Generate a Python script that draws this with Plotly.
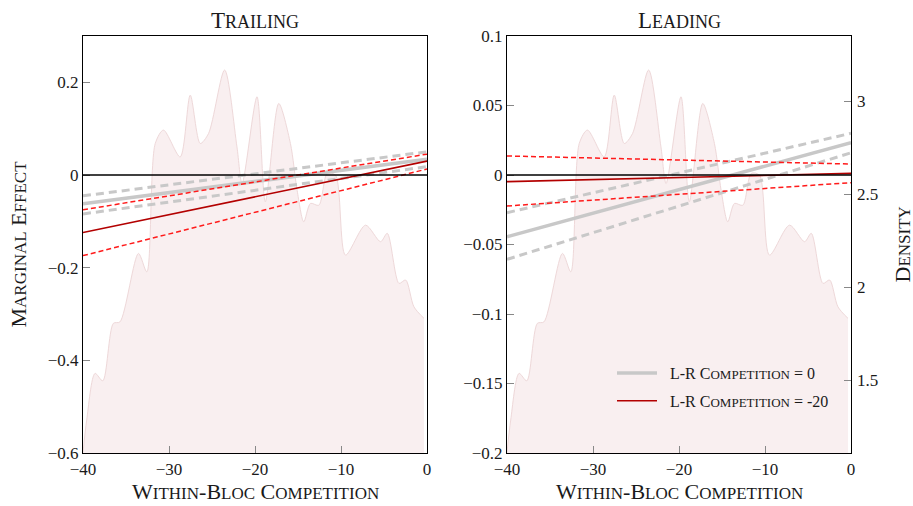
import plotly.graph_objects as go

# ---- data ----
x_ends = [-40, 0]

# Trailing panel (marginal effect)
trail_gray = [-0.062, 0.034]
trail_gray_hi = [-0.045, 0.050]
trail_gray_lo = [-0.084, 0.018]
trail_red = [-0.124, 0.030]
trail_red_hi = [-0.075, 0.045]
trail_red_lo = [-0.174, 0.013]

# Leading panel (marginal effect)
lead_gray = [-0.0444, 0.0233]
lead_gray_hi = [-0.0271, 0.0300]
lead_gray_lo = [-0.0607, 0.0160]
lead_red = [-0.0048, 0.0012]
lead_red_hi = [0.0137, 0.0079]
lead_red_lo = [-0.0223, -0.0055]

# density of within-bloc competition
dens_x = [-40.0, -39.57, -38.6, -37.7, -36.47, -35.7, -33.55, -32.58, -31.6, -30.64,
          -28.7, -27.53, -26.37, -25.4, -23.53, -22.1, -21.5, -19.77, -18.8, -17.24,
          -15.88, -15.1, -14.33, -13.55, -12.58, -11.6, -10.64, -9.48, -7.15, -5.4,
          -4.62, -3.26, -2.48, -1.52, -0.35]
dens_y = [1.11, 1.285, 1.536, 1.496, 1.805, 1.813, 2.181, 2.082, 2.772, 2.844,
          2.70, 3.032, 2.772, 2.826, 3.167, 2.754, 2.557, 3.023, 2.459, 2.987,
          2.772, 2.52, 2.351, 2.45, 2.44, 2.611, 2.602, 2.172, 2.333, 2.244,
          2.289, 2.02, 2.038, 1.894, 1.832]

x_ticks = [-40, -30, -20, -10, 0]
x_ticktext = ["\u221240", "\u221230", "\u221220", "\u221210", "0"]
trail_ticks = [-0.6, -0.4, -0.2, 0, 0.2]
trail_ticktext = ["\u22120.6", "\u22120.4", "\u22120.2", "0", "0.2"]
lead_ticks = [-0.2, -0.15, -0.1, -0.05, 0, 0.05, 0.1]
lead_ticktext = ["\u22120.2", "\u22120.15", "\u22120.1", "\u22120.05", "0", "0.05", "0.1"]
dens_ticks = [1.5, 2, 2.5, 3]
dens_ticktext = ["1.5", "2", "2.5", "3"]

panel_titles = ["Trailing", "Leading"]
x_title = "Within-Bloc Competition"
y_title = "Marginal Effect"
y2_title = "Density"
legend_names = ["L-R Competition = 0", "L-R Competition = -20"]

FONT = "Liberation Serif"
INK = "#1a1a1a"
GRAY = "#c8c8c8"
DRED = "#b30000"
RED = "#ff1a1a"
FILL = "#f9eff0"
EDGE = "#eed8d9"


def smallcaps(text, big, small):
    out = []
    for ch in text:
        if ch.islower():
            out.append('<span style="font-size:%dpx">%s</span>' % (small, ch.upper()))
        else:
            out.append('<span style="font-size:%dpx">%s</span>' % (big, ch))
    return "".join(out)


fig = go.Figure()

# density in both panels (base axes, drawn under)
for xa, ya in (("x", "y"), ("x2", "y2")):
    fig.add_trace(go.Scatter(x=dens_x, y=dens_y, xaxis=xa, yaxis=ya, mode="lines",
                             line=dict(color=EDGE, width=1, shape="spline", smoothing=0.8),
                             fill="tozeroy", fillcolor=FILL, showlegend=False, hoverinfo="skip"))

LEG_PAD = "\u00a0\u00a0"


def add_panel(ya, g, ghi, glo, r, rhi, rlo, legend):
    xa = "x" if ya == "y3" else "x2"
    fig.add_trace(go.Scatter(x=x_ends, y=ghi, xaxis=xa, yaxis=ya, mode="lines",
                             line=dict(color=GRAY, width=3, dash="8px,5px"), showlegend=False))
    fig.add_trace(go.Scatter(x=x_ends, y=glo, xaxis=xa, yaxis=ya, mode="lines",
                             line=dict(color=GRAY, width=3, dash="8px,5px"), showlegend=False))
    fig.add_trace(go.Scatter(x=x_ends, y=g, xaxis=xa, yaxis=ya, mode="lines",
                             line=dict(color=GRAY, width=3.5),
                             name=LEG_PAD + smallcaps(legend_names[0], 16, 13),
                             showlegend=legend, legendgroup="g"))
    fig.add_trace(go.Scatter(x=x_ends, y=rhi, xaxis=xa, yaxis=ya, mode="lines",
                             line=dict(color=RED, width=1.5, dash="5px,3px"), showlegend=False))
    fig.add_trace(go.Scatter(x=x_ends, y=rlo, xaxis=xa, yaxis=ya, mode="lines",
                             line=dict(color=RED, width=1.5, dash="5px,3px"), showlegend=False))
    fig.add_trace(go.Scatter(x=x_ends, y=r, xaxis=xa, yaxis=ya, mode="lines",
                             line=dict(color=DRED, width=1.6),
                             name=LEG_PAD + smallcaps(legend_names[1], 16, 13),
                             showlegend=legend, legendgroup="r"))


add_panel("y3", trail_gray, trail_gray_hi, trail_gray_lo, trail_red, trail_red_hi, trail_red_lo, False)
add_panel("y4", lead_gray, lead_gray_hi, lead_gray_lo, lead_red, lead_red_hi, lead_red_lo, True)

ydom = [1 - 453 / 506, 1 - 36 / 506]
dom1 = [83 / 913, 427 / 913]
dom2 = [507 / 913, 851 / 913]

tickfont = dict(family=FONT, size=17, color=INK)
common_x = dict(range=[-40, 0], tickvals=x_ticks, ticktext=x_ticktext, ticks="inside",
                ticklen=7, tickcolor="#888", showline=True, linecolor="black", linewidth=1.2,
                mirror=True, showgrid=False, zeroline=False, tickfont=tickfont, automargin=False)
common_me = dict(ticks="inside", ticklen=7, tickcolor="#888", showline=True, linecolor="black",
                 linewidth=1.2, mirror=True, showgrid=False, zeroline=False,
                 tickfont=tickfont, automargin=False)

annotations = []
for dom, t in zip((dom1, dom2), panel_titles):
    annotations.append(dict(text=smallcaps(t, 23, 18), x=(dom[0] + dom[1]) / 2, y=ydom[1],
                            xref="paper", yref="paper", xanchor="center", yanchor="bottom",
                            showarrow=False, yshift=1, font=dict(family=FONT, color=INK)))
    annotations.append(dict(text=smallcaps(x_title, 22, 17), x=(dom[0] + dom[1]) / 2, y=0,
                            xref="paper", yref="paper", xanchor="center", yanchor="bottom",
                            showarrow=False, yshift=0, font=dict(family=FONT, color=INK)))
annotations.append(dict(text=smallcaps(y_title, 22, 17), x=18 / 913, y=(ydom[0] + ydom[1]) / 2,
                        xref="paper", yref="paper", xanchor="center", yanchor="middle",
                        textangle=-90, showarrow=False, font=dict(family=FONT, color=INK)))
annotations.append(dict(text=smallcaps(y2_title, 22, 17), x=902 / 913, y=(ydom[0] + ydom[1]) / 2,
                        xref="paper", yref="paper", xanchor="center", yanchor="middle",
                        textangle=-90, showarrow=False, font=dict(family=FONT, color=INK)))

shapes = []
for yref in ("y3", "y4"):
    xr = "x domain" if yref == "y3" else "x2 domain"
    shapes.append(dict(type="line", xref=xr, x0=0, x1=1, yref=yref, y0=0, y1=0,
                       line=dict(color="black", width=1.5), layer="above"))

fig.update_layout(
    width=913, height=506, margin=dict(l=0, r=0, t=0, b=0, autoexpand=False),
    paper_bgcolor="white", plot_bgcolor="rgba(0,0,0,0)",
    xaxis=dict(domain=dom1, anchor="y", **common_x),
    xaxis2=dict(domain=dom2, anchor="y2", **common_x),
    yaxis=dict(domain=ydom, anchor="x", range=[1.108, 3.35], visible=False),
    yaxis2=dict(domain=ydom, anchor="x2", range=[1.108, 3.35], side="right",
                tickvals=dens_ticks, ticktext=dens_ticktext, ticks="inside", ticklen=7,
                tickcolor="#888", showline=False, showgrid=False, zeroline=False,
                tickfont=tickfont, automargin=False, ticklabelstandoff=5),
    yaxis3=dict(overlaying="y", anchor="x", side="left", range=[-0.6, 0.3],
                tickvals=trail_ticks, ticktext=trail_ticktext, **common_me),
    yaxis4=dict(overlaying="y2", anchor="x2", side="left", range=[-0.2, 0.1],
                tickvals=lead_ticks, ticktext=lead_ticktext, **common_me),
    legend=dict(x=612 / 913, y=1 - 356 / 506, xanchor="left", yanchor="top",
                bgcolor="rgba(0,0,0,0)", font=dict(family=FONT, size=16, color=INK),
                tracegroupgap=4, itemwidth=40),
    showlegend=True,
    annotations=annotations,
    shapes=shapes,
)

fig.write_html("out.html")
